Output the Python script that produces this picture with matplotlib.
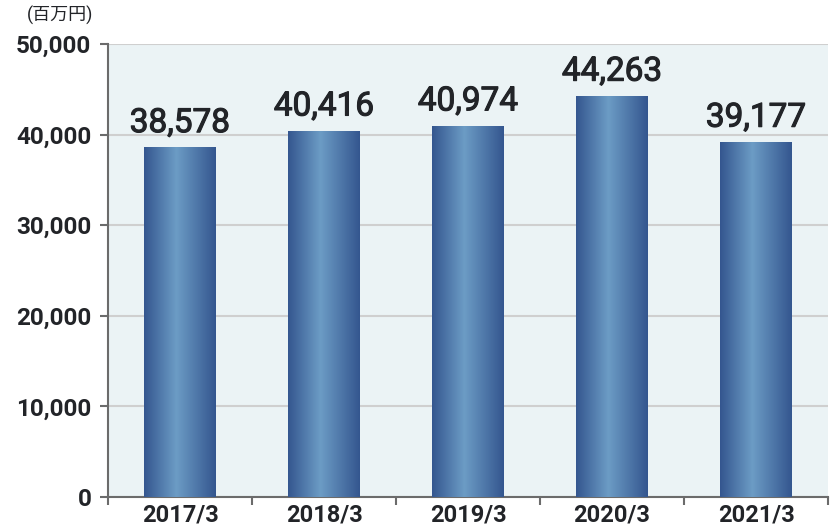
import numpy as np
import matplotlib
matplotlib.use('Agg')
import matplotlib.pyplot as plt
import matplotlib.patheffects as pe
from matplotlib.colors import LinearSegmentedColormap

plt.rcParams['font.family'] = ['Roboto', 'Noto Sans CJK JP', 'DejaVu Sans']

years = ['2017/3', '2018/3', '2019/3', '2020/3', '2021/3']
values = [38578, 40416, 40974, 44263, 39177]
yticks = [0, 10000, 20000, 30000, 40000, 50000]

fig = plt.figure(figsize=(8.3, 5.3), dpi=100)
ax = fig.add_axes([108/830, 1 - 497/530, 720/830, 453/530])
ax.set_facecolor('#ebf3f5')

# グラデーション（端が濃く、中央が明るい）
cmap = LinearSegmentedColormap.from_list('bar', [(0, '#34568f'), (0.45, '#6c9cc5'), (1, '#34568f')])
grad = np.linspace(0, 1, 256).reshape(1, -1)

x = np.arange(len(years))
w = 0.5
bars = ax.bar(x, values, width=w, color='none', zorder=3)
for b, v in zip(bars, values):
    x0 = b.get_x()
    im = ax.imshow(grad, cmap=cmap, aspect='auto', extent=(x0, x0 + w, 0, v), zorder=3)
    im.set_clip_path(b)
    t = ax.annotate(f'{v:,}', (x0 + w/2, v), xytext=(0, 6), textcoords='offset points',
                    ha='center', va='bottom', fontsize=24, color='#222428', zorder=4)
    t.set_path_effects([pe.withStroke(linewidth=0.8, foreground='#222428')])

ax.set_xlim(-0.5, len(years) - 0.5)
ax.set_ylim(0, 50000)
ax.set_yticks(yticks)
ax.set_yticklabels([f'{t:,}' for t in yticks], fontsize=17.5, fontweight='bold', color='#222428')
ax.yaxis.grid(True, color='#cfcfcf', linewidth=1.5, zorder=0)
ax.set_axisbelow(True)

ax.set_xticks(np.arange(-0.5, len(years)), minor=False)
ax.set_xticklabels([])
ax.set_xticks(x, minor=True)
ax.set_xticklabels(years, minor=True, fontsize=17, fontweight='bold', color='#222428')
ax.tick_params(axis='x', which='minor', length=0, pad=5)
ax.tick_params(axis='x', which='major', length=6, width=1.5, color='#6b6b6b')
ax.tick_params(axis='y', length=6, width=1.5, color='#6b6b6b', pad=6)

for s in ['top', 'right']:
    ax.spines[s].set_visible(False)
for s in ['left', 'bottom']:
    ax.spines[s].set_color('#6b6b6b')
    ax.spines[s].set_linewidth(1.5)

fig.text(27/830, 1 - 15/530, '(百万円)', fontsize=13, color='#222428', va='center', ha='left')

fig.savefig('out.png', dpi=100)
